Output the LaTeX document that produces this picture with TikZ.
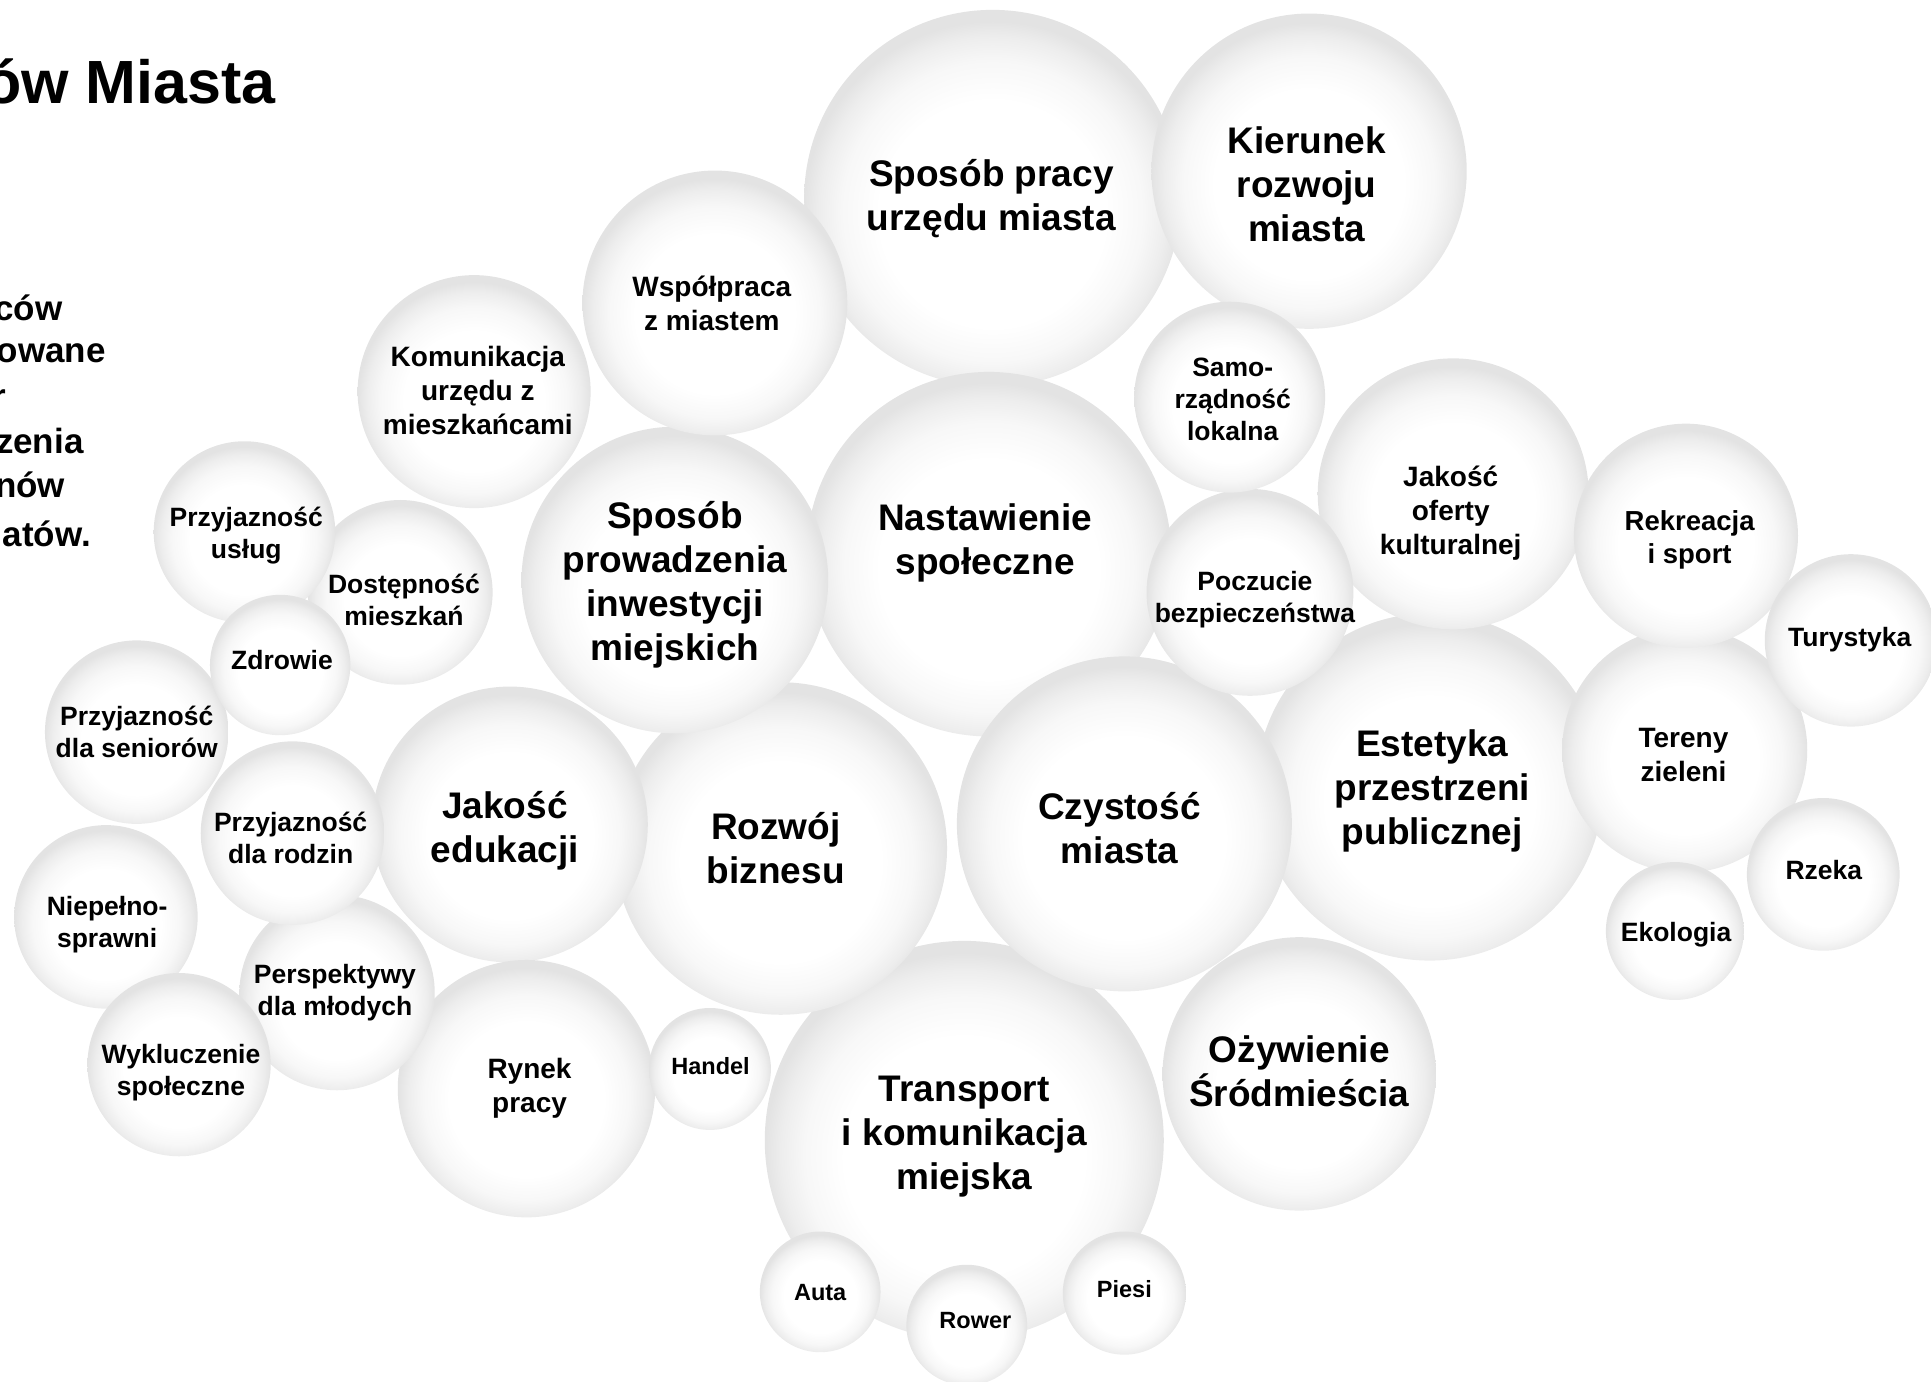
\documentclass[tikz,border=0pt]{standalone}
\usepackage{fontspec}
\setmainfont{Liberation Sans}
\pgfdeclareradialshading{bubble}{\pgfpoint{0bp}{-3bp}}{color(0bp)=(white); color(15bp)=(white); color(20bp)=(white!97!black); color(23bp)=(white!93!black); color(25bp)=(white!89!black); color(50bp)=(white!89!black)}
\tikzset{
  bub/.style={circle, inner sep=0pt, draw=none, shade, shading=bubble},
  tL/.style={font=\fontsize{37}{44}\selectfont\bfseries, align=center, inner sep=0pt},
  tM/.style={font=\fontsize{28}{34}\selectfont\bfseries, align=center, inner sep=0pt},
  tS/.style={font=\fontsize{26.5}{32}\selectfont\bfseries, align=center, inner sep=0pt},
  tX/.style={font=\fontsize{23.5}{28}\selectfont\bfseries, align=center, inner sep=0pt},
  side/.style={font=\fontsize{35}{35}\selectfont\bfseries, anchor=base east, inner sep=0pt}
}
\newcommand\bub[4]{\node[bub, minimum size=#4*2.463pt] (#1) at (#2,#3) {};}
\begin{document}
\begin{tikzpicture}[x=1.2315pt, y=-1.2315pt]
\useasboundingbox (0,0) rectangle (1568,1122);
% bubbles, largest first (smaller ones lie on top)
\bub{bTrans}{783}{926}{162}
\bub{bPraca}{806}{161}{153}
\bub{bNast}{803}{450}{148}
\bub{bEst}{1161}{639}{141}
\bub{bCzy}{913}{669}{136}
\bub{bBiz}{634}{689}{135}
\bub{bKier}{1063}{139}{128}
\bub{bInw}{548}{471}{124.5}
\bub{bEdu}{414}{669.5}{112}
\bub{bOzy}{1055}{872}{111}
\bub{bKult}{1180}{401}{110}
\bub{bWsp}{580.5}{246}{107.5}
\bub{bRynek}{427.5}{884}{104.5}
\bub{bZiel}{1368}{609}{99.5}
\bub{bKom}{385}{318}{94.6}
\bub{bRekr}{1369}{435}{91}
\bub{bBezp}{1015}{481}{84}
\bub{bMlod}{273.7}{806}{79.3}
\bub{bSamo}{998.5}{322.5}{77.5}
\bub{bMiesz}{325}{481}{75}
\bub{bSen}{111}{594.5}{74.5}
\bub{bRodz}{237.5}{676.5}{74.5}
\bub{bNiep}{86}{744.5}{74.5}
\bub{bWyk}{145.4}{864.5}{74.4}
\bub{bUsl}{198.5}{432}{73.7}
\bub{bTur}{1503}{520}{70}
\bub{bRzeka}{1480.5}{710}{62}
\bub{bZdr}{227.5}{540}{57}
\bub{bEko}{1360}{756}{56}
\bub{bPiesi}{913}{1050}{50}
\bub{bHandel}{576.5}{868}{49.5}
\bub{bAuta}{666}{1049}{49}
\bub{bRower}{785}{1076}{49}
% labels
\node[tL] (tPraca) at (805,161) {Sposób pracy\\urzędu miasta};
\node[tL] (tKier) at (1061,149.5) {Kierunek\\rozwoju\\miasta};
\node[tM] (tWsp) at (578,246) {Współpraca\\z miastem};
\node[tM] (tKom) at (388,317) {Komunikacja\\urzędu z\\mieszkańcami};
\node[tS] (tSamo) at (1001,324.5) {Samo-\\rządność\\lokalna};
\node[tL] (tInw) at (548,475) {Sposób\\prowadzenia\\inwestycji\\miejskich};
\node[tL] (tNast) at (800,441) {Nastawienie\\społeczne};
\node[tM] (tKult) at (1178,417) {Jakość\\oferty\\kulturalnej};
\node[tS] (tBezp) at (1019,487) {Poczucie\\bezpieczeństwa};
\node[tS, font=\fontsize{27.5}{33}\selectfont\bfseries] (tRekr) at (1372,438) {Rekreacja\\i sport};
\node[tS] (tTur) at (1502,519) {Turystyka};
\node[tS] (tUsl) at (200,435) {Przyjazność\\usług};
\node[tS] (tMiesz) at (328,487) {Dostępność\\mieszkań};
\node[tS] (tZdr) at (229,536) {Zdrowie};
\node[tS] (tSen) at (111,594) {Przyjazność\\dla seniorów};
\node[tS] (tRodz) at (236,680) {Przyjazność\\dla rodzin};
\node[tL] (tEdu) at (410,674.5) {Jakość\\edukacji};
\node[tL] (tBiz) at (630,688.5) {Rozwój\\biznesu};
\node[tL] (tCzy) at (909,672.5) {Czystość\\miasta};
\node[tL] (tEst) at (1163,642) {Estetyka\\przestrzeni\\publicznej};
\node[tM] (tZiel) at (1367,613) {Tereny\\zieleni};
\node[tS] (tRzeka) at (1481,706.5) {Rzeka};
\node[tS] (tEko) at (1361,759) {Ekologia};
\node[tS] (tNiep) at (87,750.5) {Niepełno-\\sprawni};
\node[tS] (tMlod) at (272,806) {Perspektywy\\dla młodych};
\node[tS] (tWyk) at (147,871) {Wykluczenie\\społeczne};
\node[tM] (tRynek) at (430,884) {Rynek\\pracy};
\node[tX] (tHandel) at (577,866) {Handel};
\node[tL] (tTrans) at (783,923) {Transport\\i komunikacja\\miejska};
\node[tL] (tOzy) at (1055,869.5) {Ożywienie\\Śródmieścia};
\node[tX] (tAuta) at (666,1049.5) {Auta};
\node[tX] (tRower) at (792,1072.5) {Rower};
\node[tX] (tPiesi) at (913,1046.5) {Piesi};
% title and side text (cut by the page edge)
\node[anchor=base east, inner sep=0pt, font=\fontsize{61}{61}\selectfont\bfseries] (title) at (224,84) {ów Miasta};
\node[side] (s1) at (51,260.4) {ców};
\node[side] (s2) at (86,294) {owane};
\node[side] (s3) at (5,331.7) {r};
\node[side] (s4) at (68,368.2) {zenia};
\node[side] (s5) at (53,404) {nów};
\node[side] (s6) at (74,443.5) {atów.};
\end{tikzpicture}
\end{document}
